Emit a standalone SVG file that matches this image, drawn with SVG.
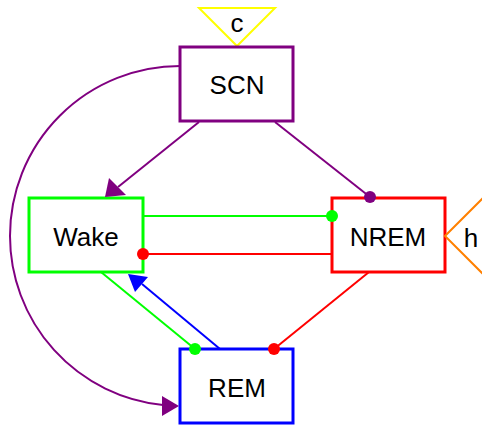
<svg xmlns="http://www.w3.org/2000/svg" width="482" height="425" viewBox="0 0 482 425">
  <style>
    .box { fill: #ffffff; stroke-width: 3; }
    .lbl { font-family: "Liberation Sans", Arial, sans-serif; font-size: 26px; fill: #000000; text-anchor: middle; }
    .edge { fill: none; stroke-width: 2; }
  </style>

  <!-- nodes -->
  <g id="c">
    <polygon points="199,8 275,8 237,46" fill="#ffffff" stroke="#ffff00" stroke-width="2"/>
    <text class="lbl" x="237" y="32">c</text>
  </g>
  <g id="SCN">
    <rect class="box" x="180" y="47" width="113" height="74" stroke="#800080"/>
    <text class="lbl" x="237" y="94">SCN</text>
  </g>
  <g id="Wake">
    <rect class="box" x="29" y="198" width="114" height="74" stroke="#00ff00"/>
    <text class="lbl" x="86" y="246">Wake</text>
  </g>
  <g id="NREM">
    <rect class="box" x="332" y="198" width="113" height="74" stroke="#ff0000"/>
    <text class="lbl" x="388" y="246">NREM</text>
  </g>
  <g id="h">
    <polygon points="445,236 483,198 483,274" fill="#ffffff" stroke="#ff8000" stroke-width="2"/>
    <text class="lbl" x="471" y="247">h</text>
  </g>
  <g id="REM">
    <rect class="box" x="180" y="349" width="113" height="74" stroke="#0000ff"/>
    <text class="lbl" x="237" y="397">REM</text>
  </g>

  <!-- connectors -->
  <g id="edges">
    <!-- SCN -> Wake -->
    <path class="edge" stroke="#800080" d="M199,122 L118,187"/>
    <polygon points="105,197 109,178 126,195" fill="#800080"/>
    <!-- SCN -o NREM -->
    <path class="edge" stroke="#800080" d="M275,122 L370,197"/>
    <circle cx="370" cy="197" r="6" fill="#800080"/>
    <!-- SCN -> REM (arc round the left side) -->
    <path class="edge" stroke="#800080" d="M180,66 A170,170 0 0 0 10,236 A170,170 0 0 0 163,405"/>
    <polygon points="179,406 162,396 162,416" fill="#800080"/>
    <!-- Wake -o NREM -->
    <path class="edge" stroke="#00ff00" d="M143,216 L332,216"/>
    <circle cx="332" cy="216" r="6" fill="#00ff00"/>
    <!-- NREM -o Wake -->
    <path class="edge" stroke="#ff0000" d="M332,254 L143,254"/>
    <circle cx="143" cy="254" r="6" fill="#ff0000"/>
    <!-- Wake -o REM -->
    <path class="edge" stroke="#00ff00" d="M101,272 L195,349"/>
    <circle cx="195" cy="349" r="6" fill="#00ff00"/>
    <!-- REM -> Wake -->
    <path class="edge" stroke="#0000ff" d="M220,349 L142,284"/>
    <polygon points="128,274 148,277 135,292" fill="#0000ff"/>
    <!-- NREM -o REM -->
    <path class="edge" stroke="#ff0000" d="M369,272 L274,349"/>
    <circle cx="274" cy="349" r="6" fill="#ff0000"/>
  </g>
</svg>
